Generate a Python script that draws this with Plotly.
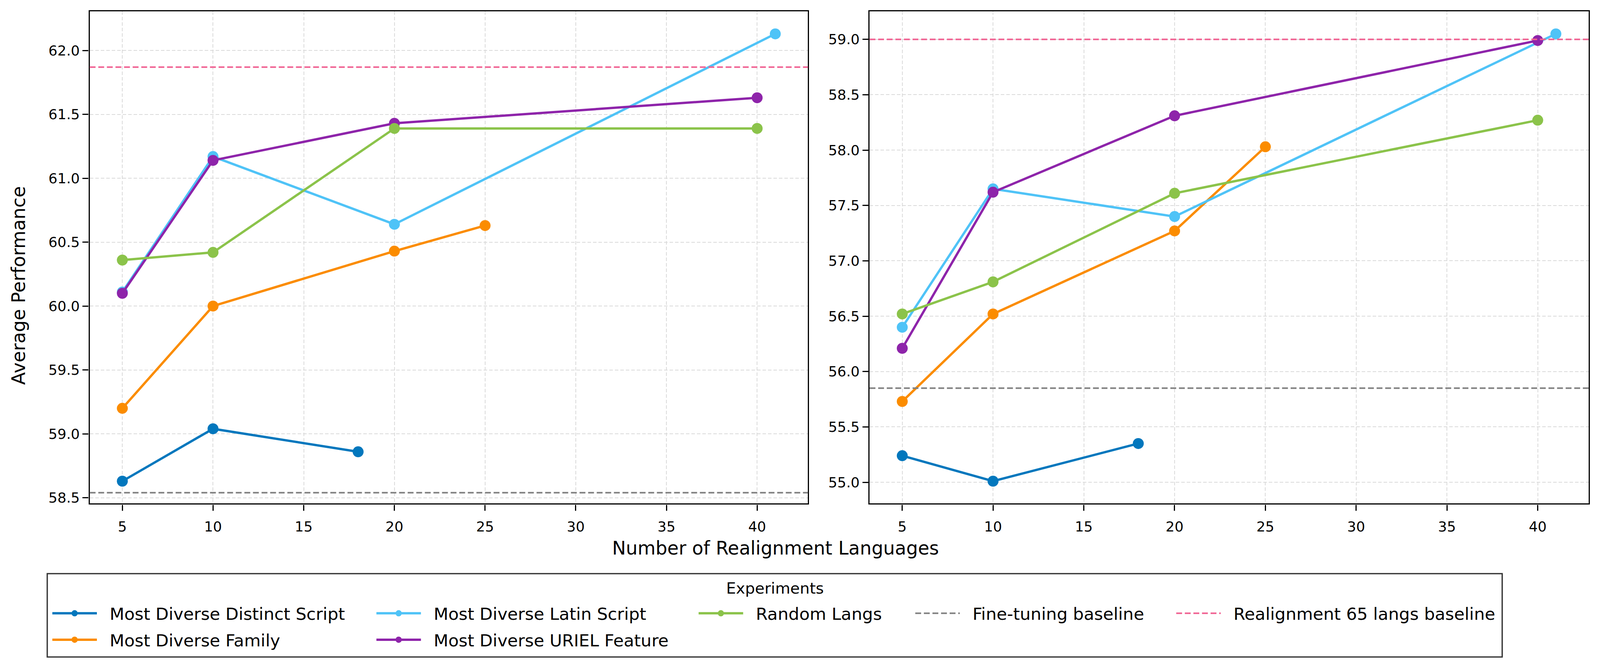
import plotly.graph_objects as go
from plotly.subplots import make_subplots

# reference was laid out on a 4335 x 1717 canvas; positions are kept as fractions of it
W, H = 4335, 1717
S = 0.945  # page is 4096 px wide, so horizontal sizes shrink a little
FONT = "DejaVu Sans"

# data
series_names = ["Most Diverse Distinct Script", "Most Diverse Family", "Most Diverse Latin Script",
                "Most Diverse URIEL Feature", "Random Langs"]
series_colors = ["#0277BD", "#FB8C00", "#4FC3F7", "#8E24AA", "#8BC34A"]

x_distinct = [5, 10, 18]
x_family = [5, 10, 20, 25]
x_latin = [5, 10, 20, 41]
x_uriel = [5, 10, 20, 40]
x_random = [5, 10, 20, 40]

left_distinct = [58.63, 59.04, 58.86]
left_family = [59.20, 60.00, 60.43, 60.63]
left_latin = [60.11, 61.17, 60.64, 62.13]
left_uriel = [60.10, 61.14, 61.43, 61.63]
left_random = [60.36, 60.42, 61.39, 61.39]

right_distinct = [55.24, 55.01, 55.35]
right_family = [55.73, 56.52, 57.27, 58.03]
right_latin = [56.40, 57.65, 57.40, 59.05]
right_uriel = [56.21, 57.62, 58.31, 58.99]
right_random = [56.52, 56.81, 57.61, 58.27]

finetune_baseline = [58.54, 55.85]
realign_baseline = [61.87, 59.00]

xs = [x_distinct, x_family, x_latin, x_uriel, x_random]
left_vals = [left_distinct, left_family, left_latin, left_uriel, left_random]
right_vals = [right_distinct, right_family, right_latin, right_uriel, right_random]
legend_ids = ["legend", "legend", "legend2", "legend2", "legend3"]
PAD = "\u00a0\u00a0"  # gap between legend handle and label

fig = make_subplots(rows=1, cols=2)

for i, name in enumerate(series_names):
    for col, vals in ((1, left_vals[i]), (2, right_vals[i])):
        fig.add_trace(go.Scatter(
            x=xs[i], y=vals, name=PAD + name, mode="lines+markers",
            line=dict(color=series_colors[i], width=6),
            marker=dict(color=series_colors[i], size=28),
            legendgroup=name, legend=legend_ids[i],
            showlegend=(col == 1),
        ), row=1, col=col)

for col in (1, 2):
    fig.add_hline(y=finetune_baseline[col - 1], line=dict(color="#808080", width=4, dash="15px,7px"),
                  row=1, col=col, name=PAD + "Fine-tuning baseline", legend="legend4",
                  showlegend=(col == 1), layer="above")
    fig.add_hline(y=realign_baseline[col - 1], line=dict(color="#F06292", width=4, dash="15px,7px"),
                  row=1, col=col, name=PAD + "Realignment 65 langs baseline", legend="legend5",
                  showlegend=(col == 1), layer="above")

axis_common = dict(
    showline=True, linecolor="black", linewidth=3.3, mirror=True,
    ticks="outside", ticklen=15, tickwidth=3.3, tickcolor="black",
    tickfont=dict(family=FONT, size=36, color="black"),
    showgrid=True, gridcolor="#dadada", gridwidth=2, griddash="9px,5px",
    zeroline=False,
)

fig.update_xaxes(axis_common, range=[3.2, 42.8], dtick=5, tick0=0, ticklabelstandoff=10)
fig.update_yaxes(axis_common, dtick=0.5, tickformat=".1f")
fig.update_layout(
    xaxis=dict(domain=[243 / W, 2189 / W]),
    xaxis2=dict(domain=[2356 / W, 4304 / W]),
    yaxis=dict(domain=[1 - 1293 / H, 1 - 29.5 / H], range=[58.455, 62.305]),
    yaxis2=dict(domain=[1 - 1293 / H, 1 - 29.5 / H], range=[54.808, 59.252]),
)

# legend columns, filled column by column like the original
legend_common = dict(
    orientation="v", yanchor="top", y=1 - 1540 / H, xanchor="left",
    font=dict(family=FONT, size=46 * S, color="black"),
    bgcolor="rgba(0,0,0,0)", borderwidth=0, itemwidth=int(121 * S),
    tracegroupgap=8, itemsizing="trace",
)
handle_starts = [145, 1023, 1896, 2483, 3190]
for k, key in enumerate(["legend", "legend2", "legend3", "legend4", "legend5"]):
    fig.update_layout({key: dict(legend_common, x=handle_starts[k] / W - 8 / 4096)})

fig.add_shape(type="rect", xref="paper", yref="paper",
              x0=128 / W, x1=4070 / W, y0=1 - 1687 / H, y1=1 - 1473 / H,
              line=dict(color="#333333", width=3.3), fillcolor="rgba(0,0,0,0)")

fig.add_annotation(text="Experiments", xref="paper", yref="paper", x=2100 / W, y=1 - 1510 / H,
                   xanchor="center", yanchor="middle", showarrow=False,
                   font=dict(family=FONT, size=42 * S, color="black"))
fig.add_annotation(text="Number of Realignment Languages", xref="paper", yref="paper",
                   x=2101 / W, y=1 - 1407 / H, xanchor="center", yanchor="middle", showarrow=False,
                   font=dict(family=FONT, size=50 * S, color="black"))
fig.add_annotation(text="Average Performance", xref="paper", yref="paper", textangle=-90,
                   x=50 / W, y=1 - 733 / H, xanchor="center", yanchor="middle", showarrow=False,
                   font=dict(family=FONT, size=50 * S, color="black"))

fig.update_layout(
    autosize=True, margin=dict(l=0, r=0, t=0, b=0),
    plot_bgcolor="white", paper_bgcolor="white",
)

fit_page = ("document.body.style.margin='0';document.body.style.overflow='hidden';"
            "Plotly.Plots.resize(document.getElementById('{plot_id}'));")

fig.write_html("out.html", default_width="100vw", default_height="100vh",
               config={"displayModeBar": False}, post_script=fit_page)
